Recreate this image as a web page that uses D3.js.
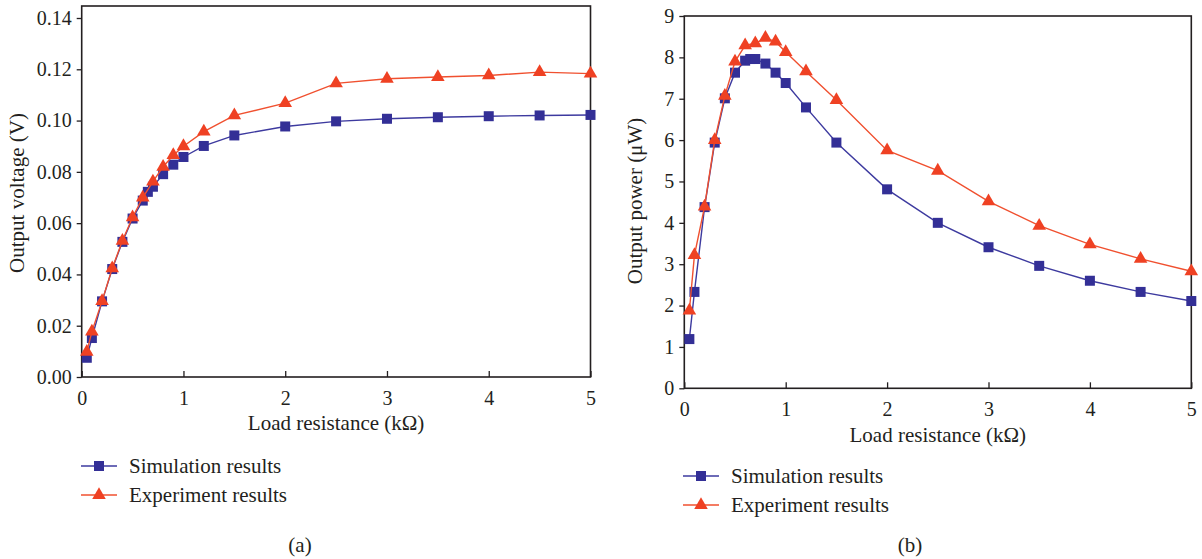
<!DOCTYPE html>
<html>
<head>
<meta charset="utf-8">
<script src="https://cdn.jsdelivr.net/npm/d3@7"></script>
<style>
  html, body { margin: 0; padding: 0; background: #fff; }
  svg { display: block; }
  text { font-family: "Liberation Serif", "DejaVu Serif", serif; fill: #231f20; }
</style>
</head>
<body>
<svg id="chart" width="1202" height="559"></svg>
<script>
// Load resistance (kΩ) for the simulated curve and for the measured curve
const simResistance = [0.05, 0.1, 0.2, 0.3, 0.4, 0.5, 0.6, 0.65, 0.7, 0.8, 0.9, 1.0, 1.2, 1.5, 2, 2.5, 3, 3.5, 4, 4.5, 5];
const expResistance = [0.05, 0.1, 0.2, 0.3, 0.4, 0.5, 0.6, 0.7, 0.8, 0.9, 1.0, 1.2, 1.5, 2, 2.5, 3, 3.5, 4, 4.5, 5];

// Output voltage (V)
const simVoltage = [0.0075, 0.0152, 0.0295, 0.0421, 0.0527, 0.0618, 0.0688, 0.0722, 0.0742, 0.0791, 0.0828, 0.0858, 0.0901, 0.0942, 0.0977, 0.0997, 0.1007, 0.1013, 0.1017, 0.1020, 0.1022];
const expVoltage = [0.0098, 0.0177, 0.0296, 0.0424, 0.0531, 0.0623, 0.0700, 0.0762, 0.0820, 0.0865, 0.0900, 0.0957, 0.1020, 0.1068, 0.1145, 0.1163, 0.1170, 0.1176, 0.1189, 0.1183];

// Output power (μW)
const simPower = [1.19, 2.33, 4.38, 5.94, 7.01, 7.63, 7.92, 7.96, 7.96, 7.85, 7.63, 7.38, 6.79, 5.94, 4.81, 4.00, 3.41, 2.96, 2.60, 2.33, 2.11];
const expPower = [1.88, 3.22, 4.39, 6.00, 7.07, 7.90, 8.29, 8.34, 8.47, 8.38, 8.13, 7.66, 6.97, 5.75, 5.26, 4.52, 3.93, 3.48, 3.13, 2.83];

// Axis ticks and labels
const xTicks = [0, 1, 2, 3, 4, 5];
const voltageTicks = [0, 0.02, 0.04, 0.06, 0.08, 0.10, 0.12, 0.14];
const powerTicks = [0, 1, 2, 3, 4, 5, 6, 7, 8, 9];
const seriesNames = ["Simulation results", "Experiment results"];
const xTitle = "Load resistance (kΩ)";
const voltageTitle = "Output voltage (V)";
const powerTitle = "Output power (μW)";
const panelTags = ["(a)", "(b)"];

const BLUE = "#332f96", BLUE_LINE = "#3d3a9f";
const RED = "#ef4123", RED_LINE = "#f0502f";
const INK = "#231f20";

const svg = d3.select("#chart");
const triangle = d3.symbol().type(d3.symbolTriangle).size(80);

function drawPanel(cfg) {
  const g = svg.append("g");
  const x = d3.scaleLinear().domain([0, 5]).range([cfg.left, cfg.right]);
  const y = d3.scaleLinear().domain(cfg.yDomain).range([cfg.bottom, cfg.yTopValuePx]);

  // y axis: outward ticks
  const yAxis = g.append("g").attr("transform", `translate(${cfg.left},0)`)
    .call(d3.axisLeft(y).tickValues(cfg.yTicks).tickFormat(cfg.yFormat).tickSize(5).tickPadding(5));
  // x axis: inward ticks
  const xAxis = g.append("g").attr("transform", `translate(0,${cfg.bottom})`)
    .call(d3.axisBottom(x).tickValues(xTicks).tickFormat(d3.format("d")).tickSize(-6).tickPadding(14));
  [yAxis, xAxis].forEach(a => {
    a.select(".domain").remove();
    a.selectAll("line").attr("stroke", INK).attr("stroke-width", 1.3);
    a.selectAll("text").attr("font-size", 20).attr("fill", INK)
      .style("font-family", '"Liberation Serif", serif');
  });

  // plot frame
  g.append("rect")
    .attr("x", cfg.left).attr("y", cfg.frameTop)
    .attr("width", cfg.right - cfg.left).attr("height", cfg.bottom - cfg.frameTop)
    .attr("fill", "none").attr("stroke", INK).attr("stroke-width", 1.6);

  const line = d3.line().x(d => x(d[0])).y(d => y(d[1]));
  const sim = simResistance.map((r, i) => [r, cfg.sim[i]]);
  const exp = expResistance.map((r, i) => [r, cfg.exp[i]]);

  g.append("path").datum(sim).attr("d", line)
    .attr("fill", "none").attr("stroke", BLUE_LINE).attr("stroke-width", 1.4);
  g.selectAll(".sq").data(sim).enter().append("rect")
    .attr("x", d => x(d[0]) - 5).attr("y", d => y(d[1]) - 5)
    .attr("width", 10).attr("height", 10).attr("fill", BLUE);

  g.append("path").datum(exp).attr("d", line)
    .attr("fill", "none").attr("stroke", RED_LINE).attr("stroke-width", 1.4);
  g.selectAll(".tri").data(exp).enter().append("path")
    .attr("d", triangle)
    .attr("transform", d => `translate(${x(d[0])},${y(d[1])})`)
    .attr("fill", RED);

  // axis titles
  g.append("text").attr("x", (cfg.left + cfg.right) / 2).attr("y", cfg.xTitleY)
    .attr("text-anchor", "middle").attr("font-size", 21).text(xTitle);
  g.append("text")
    .attr("transform", `translate(${cfg.yTitleX},${cfg.yTitleCY}) rotate(-90)`)
    .attr("text-anchor", "middle").attr("font-size", 21).text(cfg.yTitle);

  // legend
  const leg = g.append("g");
  seriesNames.forEach((name, i) => {
    const ly = cfg.legendY + i * 29;
    const lx0 = cfg.legendX, lx1 = cfg.legendX + 36, mx = (lx0 + lx1) / 2;
    leg.append("line").attr("x1", lx0).attr("x2", lx1).attr("y1", ly).attr("y2", ly)
      .attr("stroke", i === 0 ? BLUE_LINE : RED_LINE).attr("stroke-width", 1.4);
    if (i === 0) {
      leg.append("rect").attr("x", mx - 5).attr("y", ly - 5).attr("width", 10).attr("height", 10).attr("fill", BLUE);
    } else {
      leg.append("path").attr("d", triangle).attr("transform", `translate(${mx},${ly})`).attr("fill", RED);
    }
    leg.append("text").attr("x", cfg.legendX + 48).attr("y", ly + 7)
      .attr("font-size", 21).text(name);
  });

  g.append("text").attr("x", cfg.tagX).attr("y", 552)
    .attr("text-anchor", "middle").attr("font-size", 21).text(cfg.tag);
}

drawPanel({
  left: 81.7, right: 590.5, bottom: 377, frameTop: 6,
  yDomain: [0, 0.14], yTopValuePx: 18, yTicks: voltageTicks, yFormat: d3.format(".2f"),
  sim: simVoltage, exp: expVoltage,
  xTitleY: 430, yTitle: voltageTitle, yTitleX: 24, yTitleCY: 193,
  legendX: 81, legendY: 466, tag: panelTags[0], tagX: 300
});

drawPanel({
  left: 684.3, right: 1191.3, bottom: 388.3, frameTop: 16,
  yDomain: [0, 9], yTopValuePx: 16, yTicks: powerTicks, yFormat: d3.format("d"),
  sim: simPower, exp: expPower,
  xTitleY: 442, yTitle: powerTitle, yTitleX: 642, yTitleCY: 201,
  legendX: 683, legendY: 476, tag: panelTags[1], tagX: 910
});
</script>
</body>
</html>
